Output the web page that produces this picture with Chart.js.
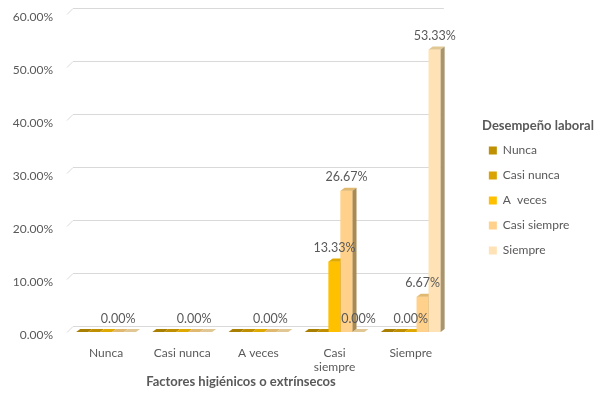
<!DOCTYPE html>
<html>
<head>
<meta charset="utf-8">
<script src="https://cdn.jsdelivr.net/npm/chart.js@4.4.1/dist/chart.umd.min.js"></script>
<style>
  html, body { margin: 0; padding: 0; background: #fff; }
  #wrap { width: 613px; height: 395px; }
</style>
</head>
<body>
<div id="wrap"><canvas id="grafico"></canvas></div>
<script>
// datos
var categorias = ['Nunca', 'Casi nunca', 'A veces', ['Casi', 'siempre'], 'Siempre'];
var series = ['Nunca', 'Casi nunca', 'A  veces', 'Casi siempre', 'Siempre'];

var nunca       = [0, 0, 0, 0, 0];
var casiNunca   = [0, 0, 0, 0, 0];
var aVeces      = [0, 0, 0, 13.33, 0];
var casiSiempre = [0, 0, 0, 26.67, 6.67];
var siempre     = [0, 0, 0, 0, 53.33];

// que puntos llevan etiqueta
var etiqNunca       = [0, 0, 0, 0, 0];
var etiqCasiNunca   = [0, 0, 0, 0, 0];
var etiqAVeces      = [0, 0, 0, 1, 1];
var etiqCasiSiempre = [1, 1, 1, 1, 1];
var etiqSiempre     = [0, 0, 0, 1, 1];

var ticksY = [0, 10, 20, 30, 40, 50, 60];

var tituloLeyenda = 'Desempeño laboral';
var tituloX = 'Factores higiénicos o extrínsecos';

var colores = ['#BF9000', '#D9A300', '#FFC000', '#FFD18A', '#FFE2B6'];
var gris = '#595959';

function sombra(hex, f) {
  var r = parseInt(hex.substr(1, 2), 16), g = parseInt(hex.substr(3, 2), 16), b = parseInt(hex.substr(5, 2), 16);
  return 'rgb(' + Math.round(r * f) + ',' + Math.round(g * f) + ',' + Math.round(b * f * 0.92) + ')';
}

function poligono(ctx, pts, color) {
  ctx.beginPath();
  ctx.moveTo(pts[0][0], pts[0][1]);
  for (var k = 1; k < pts.length; k++) ctx.lineTo(pts[k][0], pts[k][1]);
  ctx.closePath();
  ctx.fillStyle = color;
  ctx.fill();
}

var valores = [nunca, casiNunca, aVeces, casiSiempre, siempre];
var etiquetas = [etiqNunca, etiqCasiNunca, etiqAVeces, etiqCasiSiempre, etiqSiempre];

var barras3d = {
  id: 'barras3d',
  beforeDatasetsDraw: function(chart) {
    var ctx = chart.ctx, y = chart.scales.y, a = chart.chartArea;
    ctx.save();
    ctx.strokeStyle = '#D9D9D9';
    ctx.lineWidth = 1;
    ticksY.forEach(function(v) {
      var py = Math.round(y.getPixelForValue(v)) + 0.5;
      ctx.beginPath();
      ctx.moveTo(a.left - 1, py);
      ctx.lineTo(a.left + 5, py - 6);
      ctx.lineTo(a.right - 5, py - 6);
      ctx.stroke();
    });
    ctx.restore();
  },
  afterDatasetsDraw: function(chart) {
    var ctx = chart.ctx, dx = 4, dy = 3;
    ctx.save();
    for (var j = 0; j < categorias.length; j++) {
      for (var i = 0; i < chart.data.datasets.length; i++) {
        var bar = chart.getDatasetMeta(i).data[j];
        var c = colores[i];
        var x0 = bar.x - bar.width / 2, x1 = bar.x + bar.width / 2;
        var top = bar.y, base = bar.base;
        ctx.fillStyle = c;
        ctx.fillRect(x0, top, x1 - x0, base - top);
        poligono(ctx, [[x0, top], [x0 + dx, top - dy], [x1 + dx, top - dy], [x1, top]], sombra(c, 0.88));
        poligono(ctx, [[x1, top], [x1 + dx, top - dy], [x1 + dx, base - dy], [x1, base]], sombra(c, 0.66));
      }
    }
    // etiquetas de datos
    ctx.font = '12.5px Lato';
    ctx.fillStyle = gris;
    ctx.textAlign = 'center';
    ctx.textBaseline = 'middle';
    for (var i = 0; i < valores.length; i++) {
      var meta = chart.getDatasetMeta(i);
      for (var j = 0; j < categorias.length; j++) {
        if (!etiquetas[i][j]) continue;
        var el = meta.data[j];
        ctx.fillText(valores[i][j].toFixed(2) + '%', el.x, el.y - 13.5);
      }
    }
    ctx.restore();
  },
  afterDraw: function(chart) {
    var ctx = chart.ctx;
    ctx.save();
    ctx.fillStyle = gris;
    ctx.textAlign = 'center';
    ctx.textBaseline = 'middle';
    ctx.font = 'bold 13px Lato';
    ctx.fillText(tituloX, 241, 382);
    ctx.fillText(tituloLeyenda, 538, 126);
    ctx.restore();
  }
};

var datasets = series.map(function(nombre, i) {
  return {
    label: nombre,
    data: valores[i],
    backgroundColor: colores[i],
    borderWidth: 0,
    barPercentage: 1,
    categoryPercentage: 0.785
  };
});

var ctx = document.getElementById('grafico').getContext('2d');
var grafico = new Chart(ctx, {
  type: 'bar',
  data: { labels: categorias, datasets: datasets },
  plugins: [barras3d],
  options: {
    responsive: true,
    maintainAspectRatio: false,
    animation: false,
    layout: { padding: { top: 6, right: 42, bottom: 0, left: 0 } },
    scales: {
      x: {
        grid: { display: false },
        border: { display: false },
        ticks: { color: gris, font: { family: 'Lato', size: 12 }, padding: 6, maxRotation: 0 },
        afterFit: function(s) { s.height = 63; }
      },
      y: {
        min: 0,
        max: 60,
        grid: { display: false },
        border: { display: false },
        afterBuildTicks: function(s) { s.ticks = ticksY.map(function(v) { return { value: v }; }); },
        ticks: {
          color: gris,
          font: { family: 'Lato', size: 12 },
          padding: 7,
          labelOffset: 3,
          callback: function(v) { return v.toFixed(2) + '%'; }
        },
        afterFit: function(s) { s.width = 68; }
      },
      hueco: {
        type: 'linear',
        position: 'right',
        grid: { display: false },
        border: { display: false },
        ticks: { display: false },
        afterFit: function(s) { s.width = 27; }
      }
    },
    plugins: {
      tooltip: { enabled: false },
      legend: {
        position: 'right',
        align: 'start',
        // el titulo se dibuja aparte; aqui solo reserva el espacio
        title: {
          display: true,
          text: ' ',
          font: { family: 'Lato', size: 13, weight: 'bold' },
          padding: { top: 110, bottom: 0 }
        },
        labels: {
          boxWidth: 8,
          boxHeight: 8,
          padding: 13,
          color: gris,
          font: { family: 'Lato', size: 12 }
        }
      }
    }
  }
});
</script>
</body>
</html>
